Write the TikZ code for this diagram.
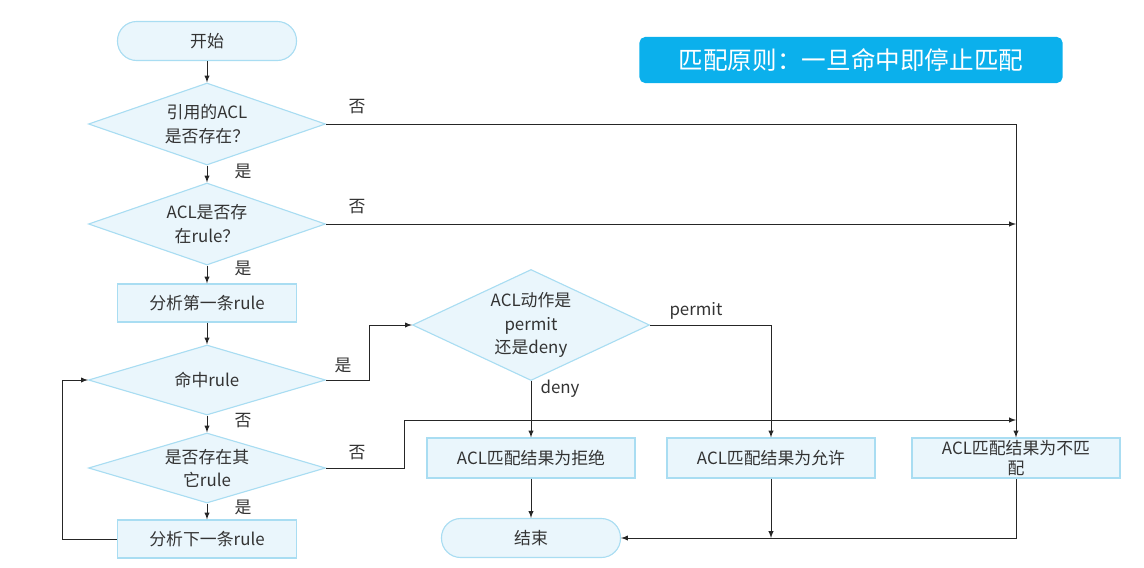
\documentclass[tikz,border=0pt]{standalone}
\usepackage{fontspec}
\setmainfont{Noto Sans CJK SC}
\usetikzlibrary{shapes.geometric}
\definecolor{boxfill}{HTML}{EAF6FC}
\definecolor{boxline}{HTML}{A9DDF2}
\definecolor{titlefill}{HTML}{0BB0EC}
\definecolor{txt}{HTML}{333333}

\begin{document}
\begin{tikzpicture}[x=0.025cm, y=-0.025cm,
        every node/.style={font=\fontsize{12}{16.5}\selectfont, text=txt},
        term/.style={draw=boxline, fill=boxfill, line width=0.8pt, rounded corners=0.48cm, minimum width=4.475cm, minimum height=0.975cm},
        proc/.style={draw=boxline, fill=boxfill, line width=0.8pt, minimum width=4.475cm, minimum height=0.95cm},
        res/.style={draw=boxline, fill=boxfill, line width=0.8pt, minimum width=5.2cm, minimum height=1cm, align=center, inner sep=1pt},
        cond/.style={diamond, draw=boxline, fill=boxfill, line width=0.8pt, aspect=2.9, inner sep=0pt, minimum width=5.925cm, minimum height=2.05cm, align=center},
        title/.style={fill=titlefill, rounded corners=4pt, minimum width=10.575cm, minimum height=1.15cm, text=white, font=\fontsize{17.5}{20}\selectfont},
        arr/.style={-latex, line width=0.7pt, draw=black!85}]

        \useasboundingbox (0, 0) rectangle (1144, 567);

        \node (rule) at (851, 60) [title] {匹配原则：一旦命中即停止匹配};

        \node (start) at (207, 41) [term] {开始};
        \node (q1) at (207, 124) [cond] {引用的ACL\\是否存在？};
        \node (q2) at (207, 224) [cond] {ACL是否存\\在rule？};
        \node (first) at (207, 303) [proc] {分析第一条rule};
        \node (hit) at (207, 380) [cond, minimum height=1.75cm] {命中rule};
        \node (other) at (207, 468) [cond, minimum height=1.75cm] {是否存在其\\它rule};
        \node (next) at (207, 539) [proc] {分析下一条rule};

        \node (act) at (531, 325) [cond, aspect=2.1, minimum height=2.775cm] {ACL动作是\\permit\\还是deny};
        \node (deny) at (531, 458) [res] {ACL匹配结果为拒绝};
        \node (permit) at (771, 458) [res] {ACL匹配结果为允许};
        \node (nomatch) at (1016, 458) [res] {ACL匹配结果为不匹\\[-2pt]配};
        \node (end) at (531, 538) [term] {结束};

        \coordinate (c1) at (1016, 420);

        \draw [arr] (start) -- (q1);
        \draw [arr] (q1) -- (q2);
        \draw [arr] (q2) -- (first);
        \draw [arr] (first) -- (hit);
        \draw [arr] (hit) -- (other);
        \draw [arr] (other) -- (next);
        \draw [arr] (next.west) -- ++(-54, 0) |- (hit.west);

        \draw [arr] (q1.east) -| (nomatch.north);
        \draw [arr] (q2.east) -- (q2.east -| nomatch.north);
        \draw [arr] (hit.east) -- ++(43, 0) |- (act.west);
        \draw [arr] (other.east) -- ++(78, 0) |- (c1);

        \draw [arr] (act.east) -| (permit.north);
        \draw [arr] (act.south) -- (deny.north);
        \draw [arr] (deny) -- (end);
        \draw [arr] (permit.south) -- (permit.south |- end.east);
        \draw [arr] (nomatch.south) |- (end.east);

        \node (l1) at (357, 107) {否};
        \node (l2) at (243, 171) {是};
        \node (l3) at (357, 207) {否};
        \node (l4) at (243, 268) {是};
        \node (l5) at (343, 365) {是};
        \node (l6) at (243, 421) {否};
        \node (l7) at (357, 453) {否};
        \node (l8) at (243, 507) {是};
        \node (l9) at (696, 311) {permit};
        \node (l10) at (560, 389) {deny};

    \end{tikzpicture}
\end{document}
